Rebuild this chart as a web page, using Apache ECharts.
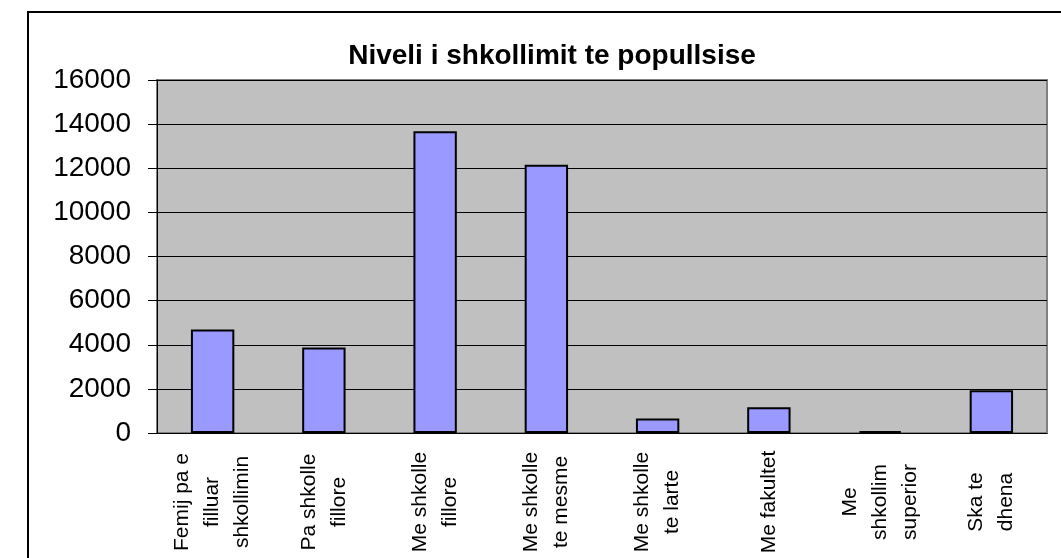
<!DOCTYPE html>
<html>
<head>
<meta charset="utf-8">
<style>
  html, body { margin: 0; padding: 0; background: #fff; }
  #chart { width: 1061px; height: 558px; }
</style>
<script src="https://cdn.jsdelivr.net/npm/echarts@6/dist/echarts.min.js"></script>
</head>
<body>
<div id="chart"></div>
<script>
// kategorite (me ndarje rreshtash si ne grafikun origjinal)
const categories = [
  "Femij pa e\nfilluar\nshkollimin",
  "Pa shkolle\nfillore",
  "Me shkolle\nfillore",
  "Me shkolle\nte mesme",
  "Me shkolle\nte larte",
  "Me fakultet",
  "Me\nshkollim\nsuperior",
  "Ska te\ndhena"
];
const values = [4690, 3870, 13680, 12160, 660, 1170, 90, 1940];
const titleText = "Niveli i shkollimit te popullsise";

const font = "'Liberation Sans', Arial, sans-serif";

const chart = echarts.init(document.getElementById("chart"));
chart.setOption({
  backgroundColor: "#fff",
  animation: false,
  title: {
    text: titleText,
    left: 547,
    top: 37,
    textAlign: "center",
    textStyle: { fontFamily: font, fontSize: 28, fontWeight: "bold", color: "#000" }
  },
  graphic: [{
    type: "rect",
    shape: { x: 28, y: 12, width: 1100, height: 700 },
    style: { fill: "none", stroke: "#000", lineWidth: 2 },
    silent: true
  }],
  grid: {
    left: 157, right: 14, top: 80, bottom: 123,
    show: true,
    backgroundColor: "#C0C0C0",
    borderColor: "#808080",
    borderWidth: 2
  },
  xAxis: {
    type: "category",
    data: categories,
    axisLine: { lineStyle: { color: "#000", width: 1 } },
    axisTick: { length: 7, interval: 0, lineStyle: { color: "#000" } },
    axisLabel: {
      interval: 0,
      rotate: 90,
      margin: 16,
      formatter: function (v) {
        return v.split("\n").map(function (s) { return "{c|" + s + "}"; }).join("\n");
      },
      rich: {
        c: { fontFamily: font, fontSize: 21, color: "#000", width: 106, align: "center", lineHeight: 30 }
      }
    }
  },
  yAxis: {
    type: "value",
    min: 0,
    max: 16000,
    interval: 2000,
    axisLine: { show: true, lineStyle: { color: "#000", width: 1 } },
    axisTick: { show: true, length: 9, lineStyle: { color: "#000" } },
    splitLine: { lineStyle: { color: "#000", width: 1 } },
    axisLabel: {
      fontFamily: font, fontSize: 28, color: "#000", margin: 26,
      formatter: function (v) { return String(v); }
    }
  },
  series: [{
    type: "bar",
    data: values,
    barWidth: "39%",
    itemStyle: { color: "#9999FF", borderColor: "#000", borderWidth: 2 }
  }]
});
</script>
</body>
</html>
